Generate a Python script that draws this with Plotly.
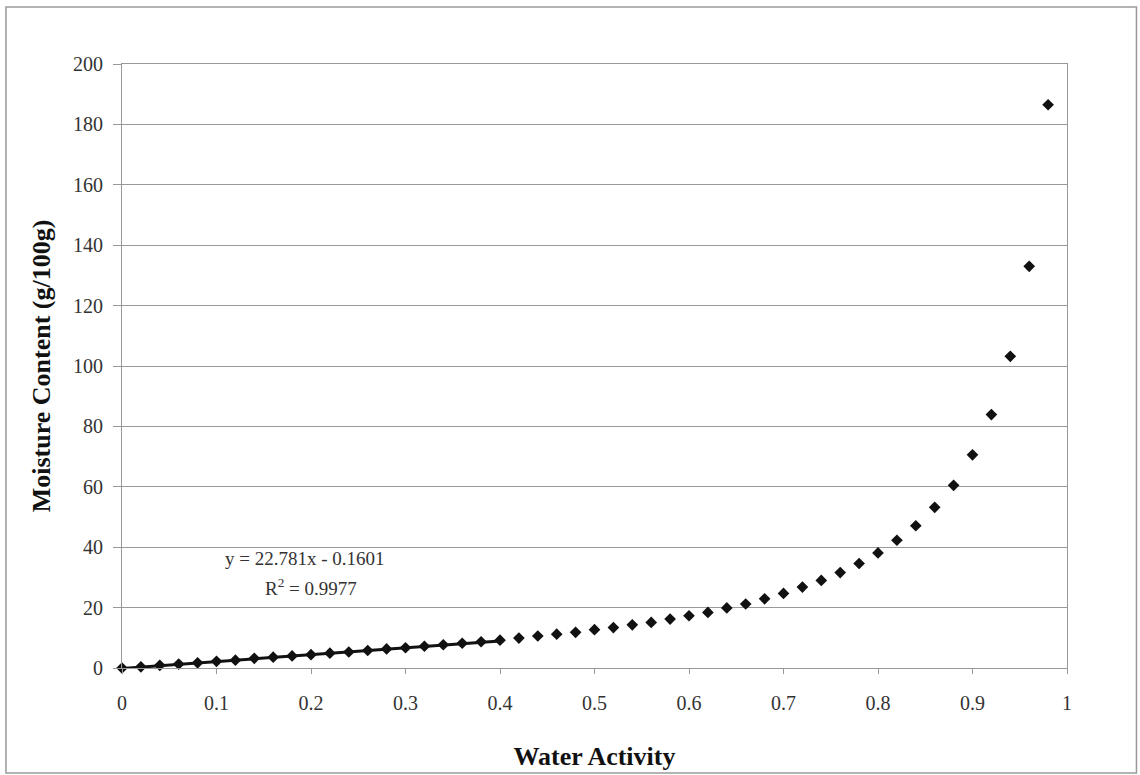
import plotly.graph_objects as go

water_activity = [0.00, 0.02, 0.04, 0.06, 0.08, 0.10, 0.12, 0.14, 0.16, 0.18,
                  0.20, 0.22, 0.24, 0.26, 0.28, 0.30, 0.32, 0.34, 0.36, 0.38,
                  0.40, 0.42, 0.44, 0.46, 0.48, 0.50, 0.52, 0.54, 0.56, 0.58,
                  0.60, 0.62, 0.64, 0.66, 0.68, 0.70, 0.72, 0.74, 0.76, 0.78,
                  0.80, 0.82, 0.84, 0.86, 0.88, 0.90, 0.92, 0.94, 0.96, 0.98]
moisture = [0.0, 0.4, 0.9, 1.3, 1.7, 2.2, 2.6, 3.2, 3.6, 4.0,
            4.4, 4.9, 5.3, 5.8, 6.3, 6.7, 7.2, 7.7, 8.2, 8.7,
            9.2, 9.9, 10.6, 11.2, 11.8, 12.7, 13.4, 14.3, 15.1, 16.2,
            17.3, 18.4, 19.9, 21.2, 22.9, 24.7, 26.8, 29.0, 31.6, 34.6,
            38.1, 42.3, 47.1, 53.2, 60.5, 70.6, 83.9, 103.2, 133.0, 186.5]

trend_slope = 22.781
trend_intercept = -0.1601
trend_r2 = 0.9977
trend_range = [0.0, 0.4]
trend_y = [trend_slope * v + trend_intercept for v in trend_range]

x_ticks = [0, 0.1, 0.2, 0.3, 0.4, 0.5, 0.6, 0.7, 0.8, 0.9, 1]
x_tick_text = ["0", "0.1", "0.2", "0.3", "0.4", "0.5", "0.6", "0.7", "0.8", "0.9", "1"]
y_ticks = [0, 20, 40, 60, 80, 100, 120, 140, 160, 180, 200]

FONT = "Liberation Serif, Times New Roman, serif"

fig = go.Figure()
fig.add_trace(go.Scatter(
    x=water_activity, y=moisture, mode="markers",
    marker=dict(symbol="diamond", size=9, color="#111111"),
    showlegend=False, cliponaxis=False,
))
fig.add_trace(go.Scatter(
    x=trend_range, y=trend_y, mode="lines",
    line=dict(color="#111111", width=3),
    showlegend=False,
))

fig.update_layout(
    width=1140, height=775,
    margin=dict(l=122, r=73, t=64, b=107, autoexpand=False),
    paper_bgcolor="white", plot_bgcolor="white",
    font=dict(family=FONT, color="#333333", size=20),
    xaxis=dict(
        range=[0, 1], tickvals=x_ticks, ticktext=x_tick_text,
        showgrid=False, zeroline=False, automargin=False,
        showline=True, linecolor="#999999", linewidth=1, mirror=True,
        ticks="outside", ticklen=5, tickcolor="#999999",
        tickfont=dict(family=FONT, size=20, color="#333333"),
        ticklabelstandoff=12,
        title=dict(text="<b>Water Activity</b>",
                   font=dict(family=FONT, size=26, color="#111111"),
                   standoff=33),
    ),
    yaxis=dict(
        range=[0, 200], tickvals=y_ticks,
        showgrid=True, gridcolor="#999999", gridwidth=1,
        zeroline=False, automargin=False,
        showline=True, linecolor="#999999", linewidth=1, mirror=True,
        ticks="outside", ticklen=8, tickcolor="#999999",
        tickfont=dict(family=FONT, size=20, color="#333333"),
        ticklabelstandoff=6,
        title=dict(text="<b>Moisture Content (g/100g)</b>",
                   font=dict(family=FONT, size=26, color="#111111"),
                   standoff=14),
    ),
    annotations=[
        dict(x=0.194, y=36.3, xref="x", yref="y",
             text=f"y = {trend_slope}x - {abs(trend_intercept)}",
             showarrow=False, font=dict(family=FONT, size=19, color="#333333")),
        dict(x=0.2, y=26.7, xref="x", yref="y",
             text=f"R<sup>2</sup> = {trend_r2}",
             showarrow=False, font=dict(family=FONT, size=19, color="#333333")),
    ],
    shapes=[
        dict(type="rect", xref="paper", yref="paper",
             x0=-0.1228, x1=1.0735, y0=-0.1738, y1=1.0944,
             line=dict(color="#9a9a9a", width=1.5), fillcolor="rgba(0,0,0,0)",
             layer="below"),
    ],
)

fig.write_html("out.html")
